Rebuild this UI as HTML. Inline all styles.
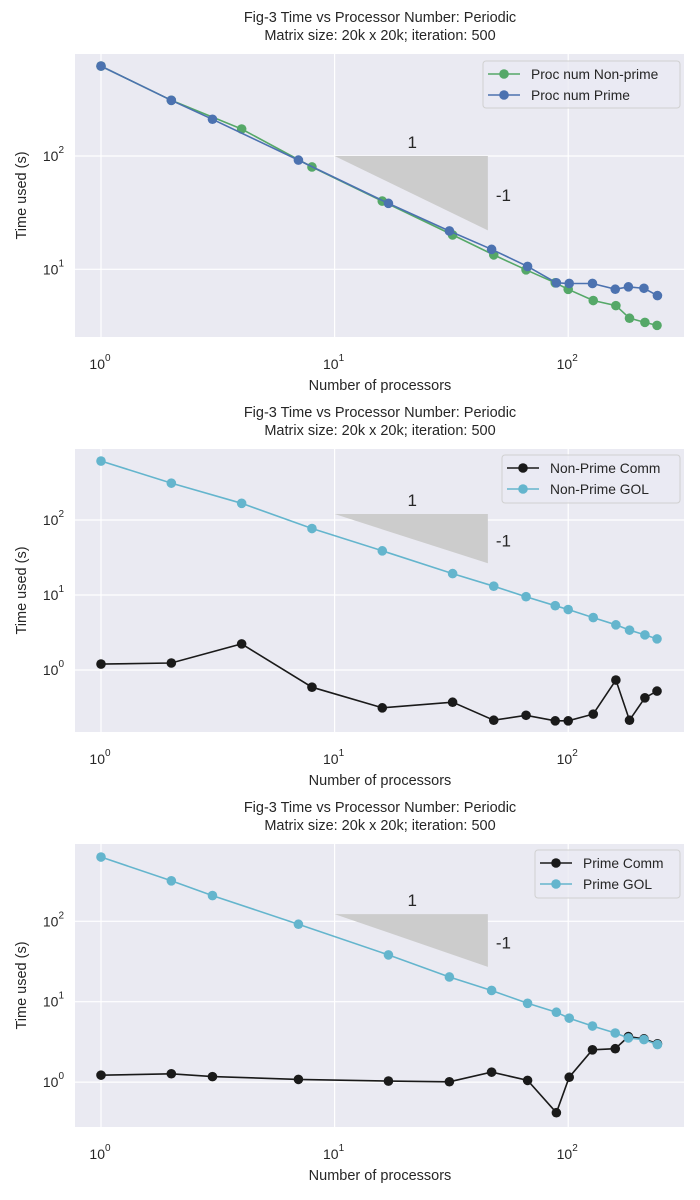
<!DOCTYPE html>
<html><head><meta charset="utf-8"><style>
html,body{margin:0;padding:0;background:#fff;}
svg{display:block;font-family:"Liberation Sans",Arial,sans-serif;}
</style></head><body>
<svg id="fig" width="700" height="1200" viewBox="0 0 700 1200" xmlns="http://www.w3.org/2000/svg"></svg>
<script>
// ---- data ----
const p1NonPrimeX = [1,2,4,8,16,32,48,66,88,100,128,160,183,213,240];
const p1NonPrimeY = [622,310,173,80,40,20.1,13.4,9.9,7.6,6.66,5.3,4.78,3.7,3.4,3.2];
const p1PrimeX = [1,2,3,7,17,31,47,67,89,101,127,159,181,211,241];
const p1PrimeY = [622,310,211,92,38.2,21.8,15,10.6,7.6,7.5,7.5,6.67,7.0,6.8,5.86];
const p2X = [1,2,4,8,16,32,48,66,88,100,128,160,183,213,240];
const p2CommY = [1.2,1.24,2.23,0.59,0.313,0.372,0.214,0.249,0.21,0.21,0.258,0.735,0.214,0.426,0.523];
const p2GolY = [611,310,167,77,38.8,19.3,13.1,9.5,7.2,6.4,5.0,4.0,3.4,2.94,2.6];
const p3X = [1,2,3,7,17,31,47,67,89,101,127,159,181,211,241];
const p3CommY = [1.22,1.27,1.17,1.08,1.03,1.01,1.33,1.05,0.416,1.15,2.52,2.6,3.68,3.45,3.0];
const p3GolY = [630,319,209,92,38.2,20.3,13.8,9.55,7.4,6.24,4.98,4.08,3.54,3.38,2.93];
const xTickVals = [1,10,100];
const xTickExp = ["0","1","2"];
const yTickVals = [1,10,100];
const yTickExp = ["0","1","2"];
const titleLines = ["Fig-3 Time vs Processor Number: Periodic","Matrix size: 20k x 20k; iteration: 500"];

const NS="http://www.w3.org/2000/svg";
const svg=document.getElementById('fig');
function mk(tag,attrs,parent){const e=document.createElementNS(NS,tag);for(const k in attrs)e.setAttribute(k,attrs[k]);(parent||svg).appendChild(e);return e;}

const panels=[
 {top:54,bot:337,yA:156,yB:269.3,tri:100,titleY:22,
  series:[{x:p1NonPrimeX,y:p1NonPrimeY,c:"#55a868",label:"Proc num Non-prime"},{x:p1PrimeX,y:p1PrimeY,c:"#4c72b0",label:"Proc num Prime"}],
  leg:[483,61,197,47]},
 {top:449,bot:732,yA:520,yB:595,tri:120,titleY:417,
  series:[{x:p2X,y:p2CommY,c:"#1a1a1a",label:"Non-Prime Comm"},{x:p2X,y:p2GolY,c:"#64b5cd",label:"Non-Prime GOL"}],
  leg:[502,455,178,48]},
 {top:844,bot:1127,yA:921.3,yB:1001.7,tri:123,titleY:812,
  series:[{x:p3X,y:p3CommY,c:"#1a1a1a",label:"Prime Comm"},{x:p3X,y:p3GolY,c:"#64b5cd",label:"Prime GOL"}],
  leg:[535,850,145,48]}
];
const L=75,R=684,x0=101,dec=233.6;
function xs(v){return x0+Math.log10(v)*dec;}

panels.forEach((P,i)=>{
  const g=mk('g',{});
  
  
  const ydec=P.yB-P.yA;
  const ys=v=>P.yA-(Math.log10(v)-2)*ydec;
  const bg=mk('rect',{x:L,y:P.top,width:R-L,height:P.bot-P.top,fill:"#eaeaf2"},g);
  
  
  xTickVals.forEach((v,k)=>{
    const gl=mk('line',{x1:xs(v),x2:xs(v),y1:P.top,y2:P.bot,stroke:"#fff","stroke-width":1.2},g);
    
    
    const t=mk('text',{x:xs(v)-1,y:P.bot+32,"font-size":14,fill:"#262626","text-anchor":"middle"},g);
    
    
    t.textContent="10";
    const s=mk('tspan',{dy:-8,"font-size":10},t);s.textContent=xTickExp[k];
  });
  yTickVals.forEach((v,k)=>{
    const yy=ys(v);
    if(yy<P.top||yy>P.bot)return;
    const gl=mk('line',{x1:L,x2:R,y1:yy,y2:yy,stroke:"#fff","stroke-width":1.2},g);
    
    
    const t=mk('text',{x:64,y:yy+5,"font-size":14,fill:"#262626","text-anchor":"end"},g);
    
    
    t.textContent="10";
    const s=mk('tspan',{dy:-8,"font-size":10},t);s.textContent=yTickExp[k];
  });
  const tx1=xs(10),tx2=xs(45.3),ty1=ys(P.tri),ty2=ys(P.tri/4.53);
  const tri=mk('polygon',{points:`${tx1},${ty1} ${tx2},${ty1} ${tx2},${ty2}`,fill:"#cccccc"},g);
  
  
  const t1=mk('text',{x:xs(21.5),y:ty1-8,"font-size":17,fill:"#262626","text-anchor":"middle"},g);
  
  
  t1.textContent="1";
  const t2=mk('text',{x:tx2+8,y:(ty1+ty2)/2+8,"font-size":17,fill:"#262626"},g);
  
  
  t2.textContent="-1";
  P.series.forEach((S,j)=>{
    const pts=S.x.map((v,k)=>xs(v).toFixed(1)+","+ys(S.y[k]).toFixed(1)).join(" ");
    const pl=mk('polyline',{points:pts,fill:"none",stroke:S.c,"stroke-width":1.6},g);
    
    
    S.x.forEach((v,k)=>{
      const c=mk('circle',{cx:xs(v),cy:ys(S.y[k]),r:4.8,fill:S.c},g);
      
      
    });
  });
  const [lx,ly,lw,lh]=P.leg;
  const lg=mk('g',{},g);
  
  
  mk('rect',{x:lx,y:ly,width:lw,height:lh,rx:3,fill:"#eaeaf2","fill-opacity":0.8,stroke:"#d0d0d0"},lg);
  P.series.forEach((S,j)=>{
    const yy=ly+13+j*21;
    mk('line',{x1:lx+5,x2:lx+37,y1:yy,y2:yy,stroke:S.c,"stroke-width":1.6},lg);
    mk('circle',{cx:lx+21,cy:yy,r:4.8,fill:S.c},lg);
    const t=mk('text',{x:lx+48,y:yy+5,"font-size":13.8,fill:"#262626"},lg);
    
    
    t.textContent=S.label;
  });
  titleLines.forEach((s,k)=>{
    const t=mk('text',{x:380,y:P.titleY+k*18,"font-size":14.5,fill:"#262626","text-anchor":"middle"},g);
    
    
    t.textContent=s;
  });
  const xl=mk('text',{x:380,y:P.bot+53,"font-size":14.5,fill:"#262626","text-anchor":"middle"},g);
  
  
  xl.textContent="Number of processors";
  const cy=(P.top+P.bot)/2;
  const yl=mk('text',{x:26,y:cy,"font-size":14.5,fill:"#262626","text-anchor":"middle",transform:`rotate(-90 26 ${cy})`},g);
  
  
  yl.textContent="Time used (s)";
});
</script>
</body></html>
